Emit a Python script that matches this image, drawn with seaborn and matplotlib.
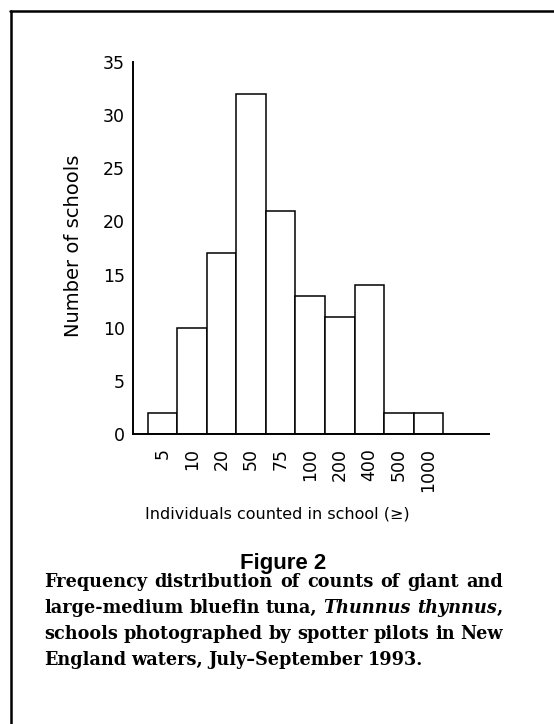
import matplotlib
matplotlib.use("Agg")
import matplotlib.pyplot as plt
import seaborn as sns
from matplotlib.lines import Line2D

# 데이터
school_sizes = ['5', '10', '20', '50', '75', '100', '200', '400', '500', '1000']
num_schools = [2, 10, 17, 32, 21, 13, 11, 14, 2, 2]

caption_lines = [
    [("Frequency", "normal"), ("distribution", "normal"), ("of", "normal"), ("counts", "normal"),
     ("of", "normal"), ("giant", "normal"), ("and", "normal")],
    [("large-medium", "normal"), ("bluefin", "normal"), ("tuna,", "normal"),
     ("Thunnus", "italic"), ("thynnus", "italic"), (",", "normal")],
    [("schools", "normal"), ("photographed", "normal"), ("by", "normal"),
     ("spotter", "normal"), ("pilots", "normal"), ("in", "normal"), ("New", "normal")],
    [("England", "normal"), ("waters,", "normal"), ("July–September", "normal"), ("1993.", "normal")],
]

W, H = 554, 724
sns.set_style("white")
plt.rcParams['font.family'] = ['DejaVu Sans']
plt.rcParams['text.color'] = 'black'
plt.rcParams['xtick.color'] = 'black'
plt.rcParams['ytick.color'] = 'black'
plt.rcParams['axes.labelcolor'] = 'black'

fig = plt.figure(figsize=(W / 100, H / 100), dpi=100)

# 축 위치 (픽셀 기준)
ax_l, ax_r, ax_t, ax_b = 133, 489, 62, 434
ax = fig.add_axes([ax_l / W, 1 - ax_b / H, (ax_r - ax_l) / W, (ax_b - ax_t) / H])

sns.barplot(x=school_sizes, y=num_schools, order=school_sizes, color='white',
            edgecolor='black', linewidth=1.1, width=1.0, saturation=1, ax=ax)

ax.set_xlim(-1.0, 11.05)
ax.set_ylim(0, 35)
ax.set_yticks(range(0, 36, 5))
sns.despine(ax=ax)
for s in ['left', 'bottom']:
    ax.spines[s].set_linewidth(1.4)
    ax.spines[s].set_color('black')
ax.tick_params(axis='y', direction='in', length=5, width=1.1, pad=6, labelsize=12.5)
ax.tick_params(axis='x', length=0, pad=10, labelsize=12.5, labelrotation=90)
for lab in ax.get_xticklabels():
    lab.set_va('top')
ax.set_xlabel('')
ax.set_ylabel('')

# 축 라벨
fig.text(73 / W, 1 - 246 / H, 'Number of schools', rotation=90, ha='center', va='center',
         fontsize=14)
fig.text(277 / W, 1 - 514 / H, 'Individuals counted in school (≥)', ha='center', va='center',
         fontsize=11.5)

# 그림 제목
fig.text(283 / W, 1 - 563 / H, 'Figure 2', ha='center', va='center', fontsize=16,
         fontweight='bold', family='Liberation Sans')

# 캡션 (양쪽 정렬)
fig.canvas.draw()
renderer = fig.canvas.get_renderer()
cap_x0, cap_x1 = 44, 503
baselines = [587, 613, 639, 665]
cap_size = 12.7

for li, words in enumerate(caption_lines):
    y = 1 - baselines[li] / H
    texts = []
    for w, st in words:
        t = fig.text(0, y, w, fontsize=cap_size, fontweight='bold', fontstyle=st,
                     family='DejaVu Serif', va='baseline', ha='left')
        texts.append(t)
    widths = [t.get_window_extent(renderer).width for t in texts]
    # ','는 앞 단어에 붙임
    glue = [w == ',' for w, _ in words]
    n_gaps = sum(1 for i in range(1, len(words)) if not glue[i])
    total = sum(widths)
    if li < 3:
        gap = (cap_x1 - cap_x0 - total) / max(n_gaps, 1)
    else:
        gap = cap_size * 0.4
    x = cap_x0
    for i, t in enumerate(texts):
        if i > 0 and not glue[i]:
            x += gap
        t.set_x(x / W)
        x += widths[i]

# 테두리 선
fig.add_artist(Line2D([11 / W, 11 / W], [0, 1 - 11 / H], color='black', linewidth=1.8))
fig.add_artist(Line2D([10 / W, 1], [1 - 11 / H, 1 - 11 / H], color='black', linewidth=1.8))

fig.savefig('out.png', dpi=100)
